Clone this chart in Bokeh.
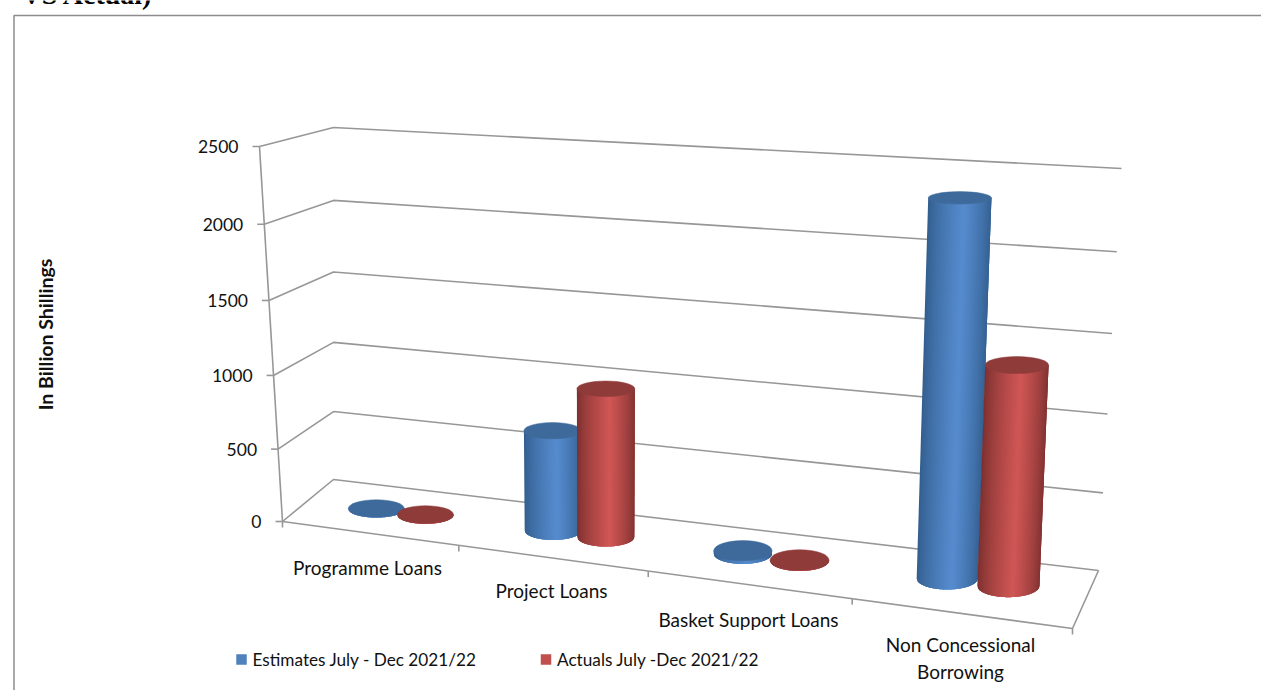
from bokeh.embed import file_html
from bokeh.models import ColumnDataSource, Range1d
from bokeh.plotting import figure
from bokeh.resources import INLINE
from bokeh.core.properties import value
import numpy as np

# Chart data (billion shillings)
categories = ["Programme Loans", "Project Loans", "Basket Support Loans", "Non Concessional\nBorrowing"]
estimates = [3, 680, 20, 2360]
actuals = [2, 995, 3, 1380]
value_ticks = [0, 500, 1000, 1500, 2000, 2500]
series_names = ["Estimates July - Dec 2021/22", "Actuals July -Dec  2021/22"]
axis_title = "In Billion Shillings"
heading_tail = "VS Actual)"

VMAX = value_ticks[-1]
WIDTH, HEIGHT = 1261, 690

# Corners of the 3D plot box on the page: (across, depth, height)
CORNERS = {
    (0, 0, 0): (282, 521), (1, 0, 0): (1072, 628), (0, 1, 0): (333, 479), (1, 1, 0): (1098, 570),
    (0, 0, 1): (259, 146), (1, 0, 1): (1085, 200), (0, 1, 1): (333, 127), (1, 1, 1): (1121, 168),
}
ACROSS_PERSPECTIVE = 1.16
HEIGHT_PERSPECTIVE = 1.045
SLOT_OFFSETS = (0.375, 0.66)
DEPTH_RADIUS = 0.2


def warp(t, k):
    return t / (t + k * (1 - t))


def project(a, d, h):
    """Trilinear map from box coordinates to page pixels."""
    x = y = 0.0
    for (ia, id_, ih), (cx, cy) in CORNERS.items():
        w = (a if ia else 1 - a) * (d if id_ else 1 - d) * (h if ih else 1 - h)
        x += w * cx
        y += w * cy
    return x, y


def hfrac(v):
    return warp(v / VMAX, HEIGHT_PERSPECTIVE)


p = figure(width=WIDTH, height=HEIGHT, output_backend="svg", toolbar_location=None,
           x_range=Range1d(0, WIDTH), y_range=Range1d(HEIGHT, 0), min_border=0,
           background_fill_color="white", border_fill_color="white", outline_line_color=None)
p.axis.visible = False
p.grid.visible = False

GRID = "#979797"
LW = 1.6
TEXT = "#111111"


def seg(pts, color=GRID, width=LW):
    p.line([q[0] for q in pts], [q[1] for q in pts], line_color=color, line_width=width)


# Outer frame of the chart object
seg([(13.5, HEIGHT), (13.5, 15), (WIDTH, 15)], "#8c8c8c", 1.5)

# Side wall, back wall and floor lines at every value tick
for v in value_ticks:
    h = hfrac(v)
    seg([project(0, 0, h), project(0, 1, h), project(1, 1, h)])
seg([project(0, 0, 0), project(0, 0, 1)])
seg([project(0, 0, 0), project(1, 0, 0), project(1, 1, 0)])

# Value axis ticks and labels
for v in value_ticks:
    x, y = project(0, 0, hfrac(v))
    seg([(x - 7, y), (x, y)])
    p.text([x - 21], [y], text=[str(v)], text_align="right", text_baseline="middle",
           text_font=value("Lato"), text_font_size="17.5px", text_color=TEXT)

# Category axis ticks
for i in range(len(categories) + 1):
    a = warp(i / len(categories), ACROSS_PERSPECTIVE)
    x, y = project(a, 0, 0)
    seg([(x, y), (x, y + 6)])

# Category labels sit below the front edge of the floor
label_anchor = [(367, 567), (551, 590), (748, 619), (960, 657.5)]
for name, (x, y) in zip(categories, label_anchor):
    p.text([x], [y], text=[name], text_align="center", text_baseline="middle",
           text_font=value("Lato"), text_font_size="19px", text_color=TEXT, text_line_height=1.18)


def shade(t, dark, light):
    f = 1 - abs(t - 0.56) / (0.56 if t < 0.56 else 0.44)
    f = f ** 0.75
    return "#%02x%02x%02x" % tuple(int(round(dark[i] + (light[i] - dark[i]) * f)) for i in range(3))


def cylinder(index, offset, val, dark, light, top):
    a = warp((index + offset) / len(categories), ACROSS_PERSPECTIVE)
    a = a + 0.012 * (0.55 - a)
    d = 0.5 + 0.07 * a
    h = hfrac(val)
    bx, by = project(a, d, 0)
    tx, ty = project(a, d, h)

    def radii(hh):
        left = project(0, d, hh)
        right = project(1, d, hh)
        near = project(a, d - 0.5, hh)
        far = project(a, d + 0.5, hh)
        rx = (right[0] - left[0]) * (0.036 + 0.005 * a ** 2)
        ry = abs(far[1] - near[1]) * DEPTH_RADIUS
        return rx, ry

    rxb, ryb = radii(0)
    rxt, ryt = radii(h)

    # Curved side painted left to right; each strip overlaps the next two
    # so neighbouring strips leave no hairline between them
    n = 60
    edges = np.linspace(-1, 1, n + 1)
    step = edges[1] - edges[0]
    xs, ys, colors = [], [], []
    for s0 in edges[:-1]:
        s1 = min(1.0, s0 + 3 * step)
        sub = np.linspace(s0, s1, 5)
        low_x = bx + rxb * sub
        low_y = by + ryb * np.sqrt(np.clip(1 - sub ** 2, 0, 1))
        xs.append(list(low_x) + [tx + rxt * s1, tx + rxt * s0])
        ys.append(list(low_y) + [ty, ty])
        colors.append(shade(s0 * 0.5 + 0.5, dark, light))
    src = ColumnDataSource(dict(xs=xs, ys=ys, c=colors))
    p.patches("xs", "ys", source=src, fill_color="c", line_color=None)

    # End cap
    p.ellipse([tx], [ty], width=[2 * rxt], height=[2 * ryt], fill_color=top, line_color=top, line_width=0.5)


BLUE = ((0x33, 0x5e, 0x8e), (0x56, 0x8c, 0xcf), "#3e6a9b")
RED = ((0x7c, 0x30, 0x2f), (0xd0, 0x57, 0x55), "#8f3b3a")

for i in range(len(categories)):
    cylinder(i, SLOT_OFFSETS[0], estimates[i], *BLUE)
    cylinder(i, SLOT_OFFSETS[1], actuals[i], *RED)

# Legend
for (x, color, name) in zip((241, 545.5), ("#4f81bd", "#c0504d"), series_names):
    p.rect([x], [659], width=[10.5], height=[10.5], fill_color=color, line_color=None)
    p.text([x + 11], [658.5], text=[name], text_align="left", text_baseline="middle",
           text_font=value("Lato"), text_font_size="17.2px", text_color=TEXT)

# Rotated axis title
p.text([44.5], [334], text=[axis_title], angle=[np.pi / 2], text_align="center", text_baseline="middle",
       text_font=value("Lato"), text_font_size="19.5px", text_font_style="bold", text_color=TEXT)

# Last line of the heading above the frame
p.text([21], [-6], text=[heading_tail], text_align="left", text_baseline="alphabetic",
       text_font=value("Liberation Serif"), text_font_size="28px", text_font_style="bold", text_color="#000000")

open("out.html", "w").write(file_html(p, INLINE))
